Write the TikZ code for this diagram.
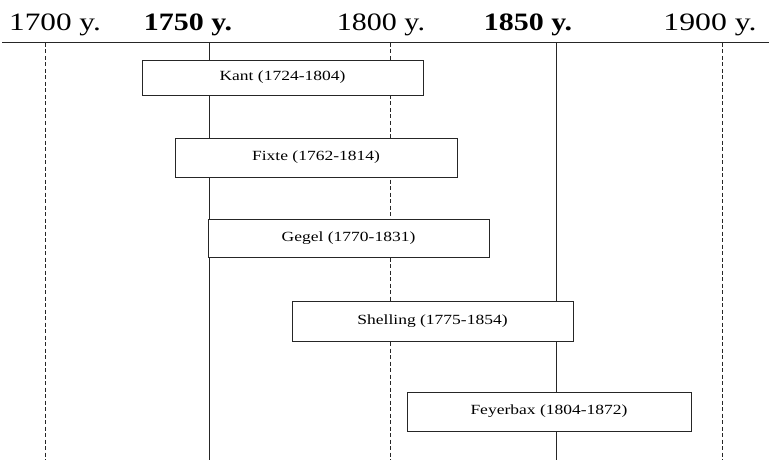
\documentclass[tikz,border=0pt]{standalone}
\usepackage{fontspec}
\usepackage{graphicx}
\setmainfont{Liberation Serif}
\begin{document}
\begin{tikzpicture}[x=1pt,y=-1pt,
  yearlbl/.style={inner sep=0pt, anchor=base, font=\fontsize{25}{28}\selectfont},
  yearbold/.style={yearlbl, font=\fontsize{25}{28}\selectfont\bfseries},
  solidline/.style={draw=black!85, line width=0.9pt},
  dashline/.style={draw=black!85, line width=0.9pt, dash pattern=on 4pt off 2.5pt},
  lifebox/.style={draw=black!85, line width=0.8pt, fill=white, inner sep=0pt,
    font=\fontsize{14}{16}\selectfont}
]
\useasboundingbox (0,0) rectangle (769,460);
\fill[white] (0,0) rectangle (769,460);
% year labels
\node[yearlbl]  (y1700) at (55,31)  {\scalebox{1.25}[1]{1700 y.}};
\node[yearbold] (y1750) at (188,31) {\scalebox{1.2}[1]{1750 y.}};
\node[yearlbl]  (y1800) at (381,31) {\scalebox{1.2}[1]{1800 y.}};
\node[yearbold] (y1850) at (528,31) {\scalebox{1.2}[1]{1850 y.}};
\node[yearlbl]  (y1900) at (710,31) {\scalebox{1.27}[1]{1900 y.}};
% top axis
\coordinate (axL) at (2,42);
\coordinate (axR) at (769,42);
\draw[solidline] (axL) -- (axR);
% vertical year lines
\coordinate (t1700) at (45,43);  \coordinate (b1700) at (45,460);
\coordinate (t1750) at (209,43); \coordinate (b1750) at (209,460);
\coordinate (t1800) at (390,43); \coordinate (b1800) at (390,460);
\coordinate (t1850) at (556,43); \coordinate (b1850) at (556,460);
\coordinate (t1900) at (722,43); \coordinate (b1900) at (722,460);
\draw[dashline]  (t1700) -- (b1700);
\draw[solidline] (t1750) -- (b1750);
\draw[dashline]  (t1800) -- (b1800);
\draw[solidline] (t1850) -- (b1850);
\draw[dashline]  (t1900) -- (b1900);
% life boxes
\node[lifebox, minimum width=281pt, minimum height=35pt] (kant) at (282.5,77.5) {\scalebox{1.25}[1]{Kant (1724-1804)}};
\node[lifebox, minimum width=282pt, minimum height=39pt] (fixte) at (316,157.5) {\scalebox{1.25}[1]{Fixte (1762-1814)}};
\node[lifebox, minimum width=281pt, minimum height=38pt] (gegel) at (348.5,238) {\scalebox{1.25}[1]{Gegel (1770-1831)}};
\node[lifebox, minimum width=281pt, minimum height=40pt] (shelling) at (432.5,321) {\scalebox{1.25}[1]{Shelling (1775-1854)}};
\node[lifebox, minimum width=284pt, minimum height=39pt] (feyerbax) at (549,411.5) {\scalebox{1.25}[1]{Feyerbax (1804-1872)}};
\end{tikzpicture}
\end{document}
